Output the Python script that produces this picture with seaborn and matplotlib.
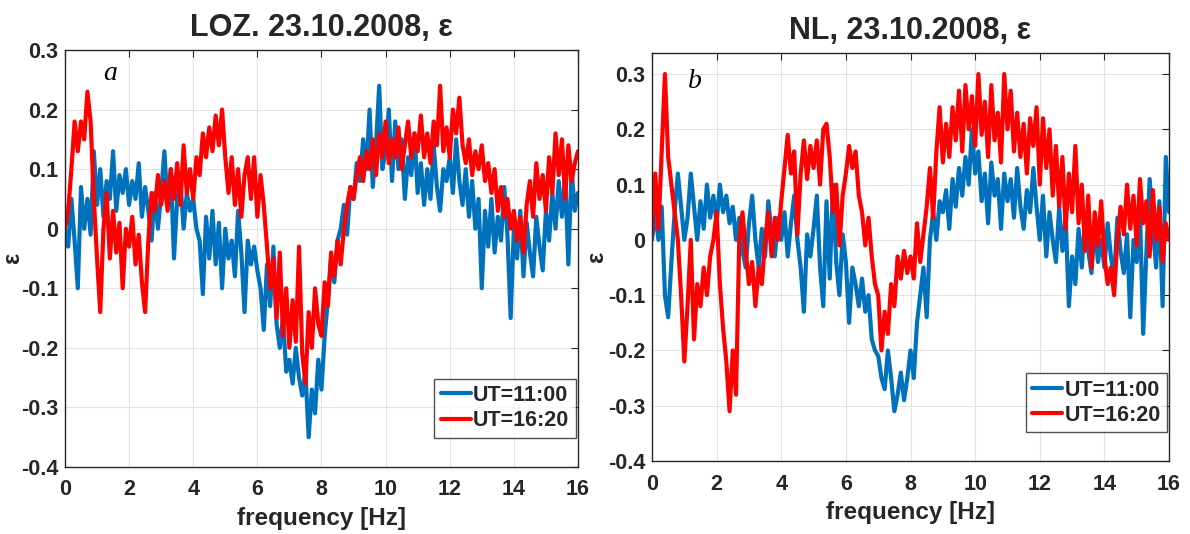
import numpy as np
import pandas as pd
import matplotlib
matplotlib.use("Agg")
import matplotlib.pyplot as plt
import seaborn as sns

# Frequency grid, 0.1 Hz step
freq_hz = np.round(np.arange(161) * 0.1, 1)

# LOZ station, epsilon spectra
loz_1100 = [
    0.00, -0.03, 0.05, -0.02, -0.10, 0.07, 0.00, 0.05, -0.01, 0.13,
    0.04, 0.10, 0.02, 0.08, 0.05, 0.13, 0.03, 0.09, 0.06, 0.10,
    0.04, 0.08, 0.05, 0.11, 0.02, 0.07, 0.03, -0.02, 0.06, 0.00,
    0.06, 0.13, 0.04, 0.10, -0.05, 0.05, 0.08, 0.00, 0.06, 0.03,
    0.05, 0.00, -0.02, -0.11, 0.02, -0.05, 0.03, -0.06, 0.01, -0.10,
    0.00, -0.05, -0.02, -0.08, 0.03, -0.04, -0.14, -0.02, -0.06, -0.03,
    -0.07, -0.10, -0.17, -0.06, -0.13, -0.03, -0.16, -0.20, -0.15, -0.24,
    -0.22, -0.26, -0.20, -0.25, -0.28, -0.24, -0.35, -0.27, -0.31, -0.22,
    -0.27, -0.18, -0.12, -0.05, -0.09, -0.02, 0.00, 0.04, -0.01, 0.07,
    0.05, 0.11, 0.08, 0.15, 0.10, 0.20, 0.07, 0.14, 0.24, 0.10,
    0.13, 0.20, 0.08, 0.18, 0.10, 0.15, 0.05, 0.12, 0.09, 0.16,
    0.06, 0.11, 0.04, 0.10, 0.05, 0.14, 0.07, 0.03, 0.10, 0.08,
    0.12, 0.06, 0.15, 0.08, 0.04, 0.10, 0.02, 0.08, 0.00, 0.05,
    -0.10, 0.03, -0.03, 0.05, -0.04, 0.02, -0.02, 0.07, -0.01, -0.15,
    0.00, -0.05, 0.03, -0.08, 0.01, -0.04, -0.08, 0.02, -0.03, -0.07,
    0.03, -0.02, 0.06, 0.00, 0.08, 0.02, 0.09, -0.06, 0.10, 0.03,
    0.06,
]
loz_1620 = [
    0.00, 0.03, 0.10, 0.18, 0.13, 0.18, 0.15, 0.23, 0.18, 0.05,
    -0.05, -0.14, 0.00, 0.06, -0.05, 0.03, -0.04, 0.01, -0.10, 0.00,
    -0.03, 0.02, -0.06, -0.01, -0.09, -0.14, -0.02, 0.06, 0.03, 0.09,
    0.04, 0.08, 0.03, 0.10, 0.05, 0.11, 0.04, 0.14, 0.06, 0.10,
    0.05, 0.12, 0.09, 0.16, 0.12, 0.17, 0.13, 0.19, 0.14, 0.20,
    0.12, 0.06, 0.12, 0.04, 0.10, 0.02, 0.09, 0.12, 0.05, 0.12,
    0.02, 0.09, 0.04, -0.03, -0.10, -0.05, -0.15, -0.04, -0.18, -0.10,
    -0.20, -0.12, -0.19, -0.03, -0.21, -0.26, -0.14, -0.20, -0.10, -0.16,
    -0.18, -0.09, -0.13, -0.04, -0.08, -0.02, -0.06, 0.00, 0.04, 0.07,
    0.05, 0.09, 0.12, 0.08, 0.13, 0.10, 0.15, 0.09, 0.16, 0.12,
    0.18, 0.11, 0.15, 0.12, 0.17, 0.10, 0.14, 0.18, 0.12, 0.16,
    0.13, 0.19, 0.12, 0.16, 0.11, 0.18, 0.14, 0.24, 0.13, 0.17,
    0.12, 0.20, 0.16, 0.22, 0.14, 0.11, 0.15, 0.09, 0.13, 0.10,
    0.14, 0.08, 0.11, 0.06, 0.10, 0.03, 0.07, 0.02, 0.05, 0.00,
    0.03, -0.02, 0.02, -0.04, 0.04, 0.08, 0.02, 0.11, 0.05, 0.09,
    0.03, 0.12, 0.06, 0.16, 0.09, 0.15, 0.05, 0.14, 0.08, 0.11,
    0.13,
]

# NL station, epsilon spectra
nl_1100 = [
    0.00, 0.05, 0.00, 0.06, -0.10, -0.14, -0.04, 0.05, 0.12, 0.06,
    0.00, 0.04, 0.12, 0.06, 0.00, 0.07, 0.02, 0.10, 0.04, 0.08,
    0.03, 0.10, 0.05, 0.08, 0.03, 0.06, 0.00, 0.04, -0.02, -0.05,
    0.03, 0.08, 0.00, -0.05, 0.02, -0.03, 0.07, 0.01, -0.03, 0.04,
    0.00, 0.05, -0.03, 0.03, 0.08, 0.00, -0.05, -0.13, 0.01, -0.03,
    0.02, 0.08, -0.05, -0.12, 0.07, -0.07, 0.10, -0.04, -0.10, 0.01,
    -0.04, -0.15, -0.05, -0.08, -0.12, -0.07, -0.13, -0.10, -0.18, -0.20,
    -0.21, -0.25, -0.27, -0.20, -0.25, -0.31, -0.28, -0.24, -0.29, -0.25,
    -0.20, -0.25, -0.15, -0.10, -0.05, -0.14, 0.00, 0.05, 0.00, 0.07,
    0.05, 0.09, 0.02, 0.11, 0.06, 0.13, 0.08, 0.15, 0.10, 0.20,
    0.12, 0.16, 0.07, 0.12, 0.03, 0.14, 0.08, 0.11, 0.02, 0.12,
    0.07, 0.11, 0.04, 0.13, 0.06, 0.02, 0.09, 0.05, 0.13, 0.06,
    0.00, 0.08, -0.03, 0.05, 0.00, -0.04, 0.06, -0.02, 0.04, -0.12,
    -0.03, -0.08, 0.02, -0.05, 0.04, -0.02, -0.06, 0.03, -0.04, 0.00,
    -0.05, 0.03, -0.03, -0.07, 0.04, -0.02, -0.06, 0.01, -0.14, 0.00,
    -0.04, 0.05, -0.17, -0.02, 0.11, 0.02, -0.05, 0.07, -0.12, 0.15,
    0.05,
]
nl_1620 = [
    0.01, 0.12, 0.02, 0.16, 0.30, 0.15, 0.10, 0.05, 0.00, -0.10,
    -0.22, -0.12, 0.00, -0.18, -0.08, -0.12, -0.05, -0.10, -0.03, 0.00,
    0.05, -0.08, -0.16, -0.22, -0.31, -0.20, -0.28, 0.00, 0.05, -0.02,
    -0.08, -0.04, -0.12, -0.05, -0.08, 0.00, 0.05, -0.03, 0.04, 0.00,
    0.07, 0.13, 0.19, 0.12, 0.16, 0.01, 0.12, 0.18, 0.11, 0.17,
    0.13, 0.18, 0.10, 0.20, 0.21, 0.15, 0.05, 0.10, -0.01, 0.08,
    0.12, 0.17, 0.13, 0.16, 0.08, 0.05, -0.01, 0.04, -0.03, -0.08,
    -0.10, -0.20, -0.13, -0.17, -0.08, -0.12, -0.03, -0.07, -0.02, -0.06,
    -0.03, -0.07, 0.03, -0.04, 0.01, 0.06, 0.13, 0.04, 0.16, 0.24,
    0.14, 0.21, 0.15, 0.24, 0.18, 0.27, 0.16, 0.28, 0.20, 0.26,
    0.17, 0.30, 0.19, 0.25, 0.15, 0.28, 0.18, 0.23, 0.14, 0.30,
    0.20, 0.27, 0.16, 0.23, 0.15, 0.21, 0.12, 0.22, 0.17, 0.24,
    0.10, 0.22, 0.13, 0.20, 0.08, 0.17, 0.06, 0.15, 0.02, 0.12,
    0.05, 0.17, 0.03, 0.10, -0.02, 0.08, -0.05, 0.05, -0.01, 0.07,
    -0.03, -0.08, -0.05, -0.10, 0.00, 0.06, 0.01, 0.10, 0.02, 0.08,
    -0.01, 0.11, 0.03, 0.07, -0.03, 0.09, 0.00, 0.06, -0.04, 0.03,
    0.00,
]

titles = ["LOZ. 23.10.2008, ε", "NL, 23.10.2008, ε"]
panel_tags = ["a", "b"]
series_labels = ["UT=11:00", "UT=16:20"]
x_ticks = [0, 2, 4, 6, 8, 10, 12, 14, 16]
y_ticks = [-0.4, -0.3, -0.2, -0.1, 0, 0.1, 0.2, 0.3]
y_tick_labels = ["-0.4", "-0.3", "-0.2", "-0.1", "0", "0.1", "0.2", "0.3"]

colors = {"UT=11:00": "#0072BD", "UT=16:20": "#FF0000"}

sns.set_theme(style="whitegrid")
plt.rcParams["font.family"] = ["Liberation Sans", "DejaVu Sans"]
plt.rcParams["font.weight"] = "bold"

fig = plt.figure(figsize=(11.9, 5.34), dpi=100)
ax_a = fig.add_axes([0.0546, 0.1255, 0.4311, 0.7809])
ax_b = fig.add_axes([0.5479, 0.1367, 0.4345, 0.7640])

panels = [
    (ax_a, loz_1100, loz_1620, (-0.4, 0.3), (1.2, 0.25), -0.080),
    (ax_b, nl_1100, nl_1620, (-0.4, 0.338), (1.1, 0.275), -0.085),
]

for i, (ax, s1, s2, ylim, tag_xy, ylab_x) in enumerate(panels):
    df = pd.DataFrame({
        "freq": np.concatenate([freq_hz, freq_hz]),
        "eps": np.concatenate([s1, s2]),
        "time": [series_labels[0]] * len(freq_hz) + [series_labels[1]] * len(freq_hz),
    })
    sns.lineplot(data=df, x="freq", y="eps", hue="time", palette=colors,
                 estimator=None, linewidth=3.0, ax=ax)
    ax.set_facecolor("white")
    ax.set_xlim(0, 16)
    ax.set_ylim(*ylim)
    ax.set_xticks(x_ticks)
    ax.set_xticklabels([str(t) for t in x_ticks])
    ax.set_yticks(y_ticks)
    ax.set_yticklabels(y_tick_labels)
    ax.grid(True, color="#e2e2e2", linewidth=0.8)
    for sp in ax.spines.values():
        sp.set_color("#262626")
        sp.set_linewidth(1.0)
    ax.tick_params(direction="in", length=5, width=0.8, color="#262626",
                   top=True, right=True, labelsize=15.5)
    ax.tick_params(axis="x", pad=9)
    ax.tick_params(axis="y", pad=5)
    for lab in ax.get_xticklabels() + ax.get_yticklabels():
        lab.set_fontweight("bold")
        lab.set_color("#262626")
    ax.set_title(titles[i], fontsize=22, fontweight="bold", pad=10)
    ax.set_xlabel("frequency [Hz]", fontsize=17.5, fontweight="bold", labelpad=5)
    ax.set_ylabel("ε", fontsize=17, fontweight="bold")
    ax.yaxis.set_label_coords(ylab_x, 0.5)
    ax.text(tag_xy[0], tag_xy[1], panel_tags[i], fontsize=20, style="italic",
            fontfamily="Liberation Serif", fontweight="normal", color="black")
    leg = ax.legend(loc="lower right", bbox_to_anchor=(0.996, 0.07),
                    borderaxespad=0, fontsize=15.5, frameon=True, fancybox=False,
                    handlelength=1.4, handletextpad=0.1, borderpad=0.3,
                    labelspacing=0.2, title=None)
    leg.get_frame().set_edgecolor("#262626")
    leg.get_frame().set_linewidth(1.0)
    for t in leg.get_texts():
        t.set_fontweight("bold")
    for h in leg.get_lines():
        h.set_linewidth(3)

fig.savefig("out.png", dpi=100, facecolor="white")
